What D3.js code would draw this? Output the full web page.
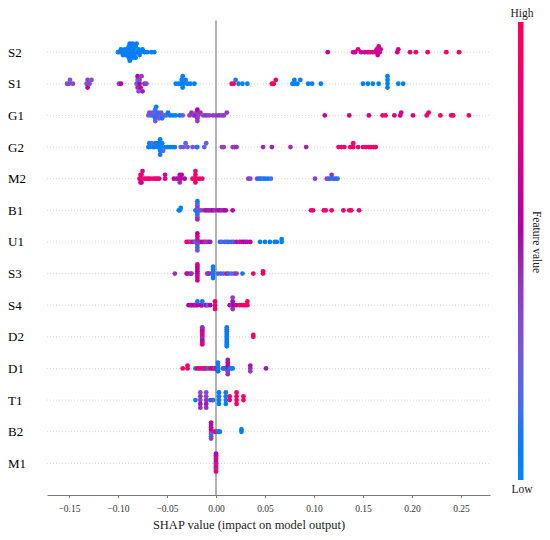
<!DOCTYPE html>
<html>
<head>
<meta charset="utf-8">
<script src="https://cdn.jsdelivr.net/npm/d3@7"></script>
<style>
  body { margin: 0; background: #fff; }
  svg { display: block; font-family: "Liberation Serif", "Times New Roman", serif; }
</style>
</head>
<body>
<div id="chart"></div>
<script>
// [shap value, normalised feature value]
const S2 = [
  [-0.100,0.05],[-0.098,0.08],[-0.097,0.05],[-0.095,0.05],[-0.094,0.1],[-0.093,0.05],[-0.092,0.05],[-0.091,0.08],[-0.091,0.05],[-0.090,0.05],[-0.089,0.1],[-0.089,0.05],[-0.088,0.05],[-0.088,0.08],[-0.087,0.05],[-0.087,0.05],[-0.086,0.1],[-0.086,0.05],[-0.085,0.05],[-0.085,0.08],[-0.084,0.05],[-0.084,0.05],[-0.083,0.1],[-0.082,0.05],[-0.082,0.05],[-0.081,0.08],[-0.080,0.05],[-0.079,0.05],[-0.078,0.1],[-0.077,0.05],[-0.075,0.05],[-0.073,0.08],[-0.070,0.05],[-0.066,0.05],[-0.063,0.05],
  [0.114,0.68],[0.140,0.68],[0.142,0.7],[0.145,0.72],[0.148,0.68],[0.152,0.7],[0.155,0.68],[0.157,0.75],[0.160,0.7],[0.163,0.68],[0.164,0.7],[0.165,0.68],[0.166,0.72],[0.167,0.7],[0.168,0.68],[0.185,0.72],[0.186,0.7],[0.198,0.85],[0.204,0.9],[0.216,0.92],[0.235,0.95],[0.248,0.97]
];
const S1 = [
  [-0.152,0.32],[-0.150,0.38],[-0.149,0.3],[-0.146,0.35],
  [-0.132,0.32],[-0.131,0.38],[-0.131,0.55],[-0.129,0.35],[-0.127,0.32],
  [-0.099,0.32],[-0.097,0.6],
  [-0.081,0.3],[-0.080,0.2],[-0.080,0.45],[-0.080,0.6],[-0.079,0.3],[-0.078,0.55],[-0.078,0.35],[-0.077,0.65],[-0.076,0.4],[-0.075,0.5],[-0.073,0.45],[-0.071,0.35],
  [-0.041,0.05],[-0.038,0.05],[-0.036,0.08],[-0.035,0.05],[-0.034,0.05],[-0.034,0.05],[-0.033,0.08],[-0.031,0.05],[-0.029,0.05],[-0.026,0.05],[-0.022,0.05],
  [0.016,0.95],[0.018,0.92],[0.020,0.1],[0.023,0.05],[0.027,0.05],[0.032,0.05],
  [0.057,0.95],[0.059,0.92],[0.061,0.95],
  [0.078,0.05],[0.080,0.05],[0.080,0.05],[0.083,0.05],[0.086,0.05],[0.094,0.05],[0.098,0.05],[0.107,0.05],
  [0.150,0.05],[0.155,0.05],[0.160,0.05],[0.166,0.05],[0.175,0.05],[0.175,0.05],[0.175,0.05],[0.175,0.05],[0.186,0.05],[0.191,0.05]
];
const G1 = [
  [-0.069,0.3],[-0.068,0.35],[-0.066,0.2],[-0.065,0.3],[-0.064,0.1],[-0.063,0.28],[-0.062,0.08],[-0.062,0.15],[-0.062,0.3],[-0.061,0.05],[-0.060,0.35],[-0.059,0.1],[-0.058,0.3],[-0.057,0.15],[-0.056,0.32],[-0.055,0.1],[-0.053,0.3],[-0.051,0.15],[-0.049,0.08],[-0.047,0.05],[-0.044,0.1],[-0.041,0.05],[-0.037,0.08],[-0.034,0.3],
  [-0.027,0.4],[-0.025,0.45],[-0.023,0.38],[-0.021,0.5],[-0.020,0.42],[-0.019,0.45],[-0.019,0.55],[-0.019,0.4],[-0.018,0.38],[-0.016,0.45],[-0.013,0.4],[-0.010,0.45],[-0.007,0.4],[-0.003,0.42],[0.000,0.4],[0.003,0.45],[0.006,0.38],[0.008,0.4],[0.011,0.42],
  [0.111,0.65],[0.136,0.68],[0.156,0.7],[0.170,0.9],[0.173,0.92],[0.182,0.7],[0.188,0.68],[0.189,0.72],[0.201,0.75],[0.215,0.9],[0.217,0.92],[0.229,0.95],[0.240,0.95],[0.242,0.92],[0.258,0.97]
];
const G2 = [
  [-0.069,0.05],[-0.068,0.08],[-0.067,0.05],[-0.066,0.2],[-0.064,0.05],[-0.063,0.05],[-0.062,0.1],[-0.060,0.05],[-0.059,0.05],[-0.058,0.05],[-0.058,0.08],[-0.057,0.05],[-0.057,0.05],[-0.057,0.1],[-0.056,0.05],[-0.055,0.05],[-0.054,0.2],[-0.052,0.05],[-0.050,0.05],[-0.048,0.05],[-0.046,0.08],[-0.044,0.05],[-0.042,0.05],
  [-0.036,0.25],[-0.033,0.3],[-0.031,0.2],[-0.029,0.28],[-0.024,0.32],[-0.020,0.3],[-0.019,0.1],[-0.012,0.2],[-0.010,0.25],
  [0.006,0.38],[0.008,0.4],[0.017,0.42],[0.019,0.4],[0.021,0.45],[0.048,0.45],[0.057,0.48],[0.076,0.45],[0.092,0.48],
  [0.125,0.9],[0.128,0.92],[0.131,0.88],[0.137,0.9],[0.140,0.85],[0.140,0.92],[0.145,0.88],[0.150,0.9],[0.153,0.85],[0.156,0.92],[0.158,0.88],[0.161,0.9],[0.163,0.92]
];
const M2 = [
  [-0.078,0.75],[-0.077,0.85],[-0.077,0.7],[-0.076,0.9],[-0.076,0.8],[-0.076,0.65],[-0.075,0.7],[-0.073,0.88],[-0.071,0.8],[-0.069,0.9],[-0.067,0.85],[-0.064,0.8],[-0.062,0.9],[-0.060,0.85],[-0.058,0.8],
  [-0.052,0.8],[-0.052,0.75],
  [-0.043,0.55],[-0.040,0.5],[-0.038,0.65],[-0.037,0.55],[-0.037,0.45],[-0.036,0.6],[-0.035,0.6],[-0.032,0.55],
  [-0.024,0.9],[-0.022,0.95],[-0.021,0.9],[-0.021,0.85],[-0.021,0.95],[-0.020,0.95],[-0.017,0.9],[-0.014,0.92],
  [0.033,0.4],[0.035,0.35],[0.042,0.4],[0.044,0.1],[0.046,0.05],[0.048,0.2],[0.050,0.1],[0.053,0.05],[0.056,0.15],
  [0.101,0.4],[0.113,0.4],[0.115,0.35],[0.117,0.1],[0.118,0.45],[0.120,0.05],[0.122,0.4],[0.124,0.1]
];
const B1 = [
  [-0.038,0.05],[-0.037,0.05],[-0.036,0.05],
  [-0.021,0.1],[-0.020,0.05],[-0.019,0.3],[-0.019,0.1],[-0.019,0.4],[-0.019,0.05],[-0.019,0.2],[-0.019,0.35],[-0.019,0.1],[-0.019,0.45],[-0.017,0.3],[-0.015,0.35],
  [-0.012,0.45],[-0.010,0.5],[-0.008,0.55],[-0.007,0.45],[-0.005,0.5],[-0.003,0.55],[-0.001,0.45],[0.002,0.5],[0.004,0.55],[0.006,0.45],[0.008,0.5],[0.010,0.55],
  [0.017,0.65],
  [0.097,0.92],[0.099,0.9],[0.110,0.92],[0.112,0.88],[0.118,0.92],[0.130,0.9],[0.136,0.88],[0.138,0.92],[0.146,0.9]
];
const U1 = [
  [-0.030,0.9],[-0.028,0.95],[-0.026,0.4],[-0.024,0.85],[-0.022,0.45],[-0.021,0.3],[-0.019,0.1],[-0.019,0.5],[-0.019,0.4],[-0.019,0.9],[-0.019,0.05],[-0.019,0.55],[-0.019,0.35],[-0.016,0.45],[-0.014,0.55],[-0.012,0.9],[-0.010,0.4],[-0.008,0.45],[-0.006,0.5],
  [0.004,0.1],[0.006,0.3],[0.009,0.05],[0.011,0.35],[0.013,0.1],[0.016,0.4],[0.018,0.1],
  [0.021,0.65],[0.024,0.45],[0.026,0.7],[0.028,0.55],[0.030,0.65],[0.032,0.5],[0.035,0.65],
  [0.045,0.05],[0.050,0.05],[0.055,0.05],[0.060,0.05],[0.062,0.1],[0.067,0.05],[0.067,0.05]
];
const S3 = [
  [-0.042,0.45],
  [-0.030,0.65],[-0.029,0.5],[-0.026,0.65],[-0.025,0.45],
  [-0.019,0.65],[-0.019,0.55],[-0.019,0.7],[-0.019,0.6],[-0.019,0.65],[-0.019,0.55],[-0.019,0.7],[-0.019,0.75],
  [-0.009,0.4],[-0.008,0.35],[-0.007,0.45],
  [-0.003,0.05],[-0.003,0.1],[-0.003,0.05],[-0.003,0.1],[-0.003,0.05],[-0.003,0.1],
  [0.002,0.35],[0.005,0.1],[0.008,0.3],[0.011,0.9],[0.013,0.1],[0.016,0.2],[0.019,0.35],
  [0.021,0.4],[0.027,0.1],[0.038,0.95],[0.048,0.95],[0.048,0.92]
];
const S4 = [
  [-0.028,0.55],[-0.026,0.6],[-0.025,0.5],[-0.023,0.65],[-0.022,0.55],[-0.020,0.45],[-0.019,0.6],[-0.019,0.1],[-0.016,0.5],[-0.015,0.65],[-0.014,0.55],[-0.014,0.1],[-0.011,0.2],[-0.010,0.55],[-0.009,0.5],[-0.008,0.15],[-0.006,0.55],
  [-0.001,0.9],[-0.001,0.95],[-0.001,0.9],
  [0.014,0.55],[0.016,0.45],[0.017,0.5],[0.017,0.55],[0.017,0.45],[0.017,0.4],[0.019,0.55],[0.021,0.65],[0.024,0.9],[0.026,0.95],[0.028,0.9],[0.030,0.92],[0.032,0.9],[0.032,0.95]
];
const D2 = [
  [-0.014,0.6],[-0.014,0.9],[-0.014,0.45],[-0.014,0.7],[-0.014,0.55],[-0.014,0.85],[-0.014,0.5],[-0.014,0.65],[-0.014,0.9],[-0.014,0.45],
  [0.011,0.05],[0.011,0.1],[0.011,0.05],[0.011,0.08],[0.011,0.05],[0.011,0.1],[0.011,0.05],[0.011,0.08],[0.011,0.05],[0.011,0.1],[0.011,0.05],
  [0.038,0.95],[0.038,0.92]
];
const D1 = [
  [-0.034,0.95],[-0.029,0.9],[-0.029,0.95],
  [-0.021,0.1],[-0.019,0.5],[-0.017,0.9],[-0.015,0.95],[-0.013,0.9],[-0.012,0.45],[-0.010,0.85],[-0.008,0.1],[-0.006,0.9],[-0.004,0.6],[-0.002,0.85],[-0.001,0.1],[0.000,0.5],[0.001,0.9],
  [0.002,0.05],[0.002,0.05],[0.002,0.08],[0.002,0.1],
  [0.007,0.1],[0.009,0.45],[0.010,0.05],[0.012,0.5],[0.012,0.55],[0.012,0.4],[0.012,0.6],[0.012,0.45],[0.012,0.5],[0.014,0.1],[0.016,0.05],[0.017,0.1],
  [0.035,0.45],[0.035,0.5],[0.035,0.4],[0.051,0.5]
];
const T1 = [
  [-0.021,0.05],
  [-0.016,0.4],[-0.016,0.45],[-0.016,0.5],[-0.016,0.35],[-0.016,0.45],
  [-0.010,0.45],[-0.010,0.4],[-0.010,0.5],[-0.010,0.35],[-0.010,0.45],
  [-0.006,0.1],[-0.004,0.9],[-0.003,0.1],
  [0.003,0.05],[0.003,0.1],[0.003,0.05],[0.003,0.08],
  [0.010,0.05],[0.010,0.1],[0.010,0.05],[0.010,0.08],
  [0.014,0.9],[0.014,0.95],
  [0.021,0.9],[0.021,0.95],[0.021,0.9],[0.021,0.92],
  [0.028,0.95],[0.028,0.9]
];
const B2 = [
  [-0.005,0.45],[-0.005,0.6],[-0.005,0.35],[-0.005,0.7],[-0.005,0.1],[-0.005,0.5],[-0.005,0.4],[-0.005,0.65],
  [-0.001,0.9],[0.000,0.95],[0.002,0.1],[0.003,0.05],[0.004,0.1],
  [0.026,0.05],[0.026,0.08]
];
const M1 = [
  [0,0.6],[0,0.9],[0,0.45],[0,0.7],[0,0.95],[0,0.5],[0,0.65],[0,0.85],[0,0.4],[0,0.75],[0,0.9],[0,0.55]
];

const features = ['S2','S1','G1','G2','M2','B1','U1','S3','S4','D2','D1','T1','B2','M1'];
const series = [S2, S1, G1, G2, M2, B1, U1, S3, S4, D2, D1, T1, B2, M1];
const xTicks = [-0.15, -0.10, -0.05, 0.00, 0.05, 0.10, 0.15, 0.20, 0.25];

const width = 550, height = 540;
const n = features.length;

const x = d3.scaleLinear().domain([-0.17245, 0.27959]).range([47, 490]);
// row positions like shap: top feature at n-1, limits -1..n
const y = d3.scaleLinear().domain([-1, n]).range([495, 20.5]);

// shap red_blue: lch path blue -> red, lightness dips in the middle
const redBlue = t => {
  const h = 266.93 + t * (380.32 - 266.93);
  const c = 70 + 20 * t;
  const l = t < 0.5 ? 54 - 28 * t : 40 + 28 * (t - 0.5);
  return d3.hcl(h, c, l).formatHex();
};
const color = d3.scaleSequential(redBlue).domain([0, 1]);

// beeswarm offsets, same as shap summary_plot
const swarm = vals => {
  const lo = d3.min(vals), hi = d3.max(vals);
  const quant = vals.map(v => Math.round(100 * (v - lo) / (hi - lo + 1e-8)));
  const inds = d3.range(vals.length).sort((a, b) => quant[a] - quant[b] || a - b);
  const ys = new Array(vals.length).fill(0);
  let layer = 0, last = -1;
  inds.forEach(i => {
    if (quant[i] !== last) layer = 0;
    ys[i] = Math.ceil(layer / 2) * ((layer % 2) * 2 - 1);
    layer++;
    last = quant[i];
  });
  const m = d3.max(ys, v => v + 1);
  return ys.map(v => v * 0.9 * 0.4 / m);
};

const svg = d3.select('#chart')
  .append('svg')
  .attr('width', width)
  .attr('height', height);

// dotted row guides
svg.append('g')
  .selectAll('line')
  .data(features)
  .enter()
  .append('line')
  .attr('x1', x.range()[0])
  .attr('x2', x.range()[1])
  .attr('y1', (d, i) => y(n - 1 - i))
  .attr('y2', (d, i) => y(n - 1 - i))
  .attr('stroke', '#cccccc')
  .attr('stroke-width', 0.8)
  .attr('stroke-dasharray', '1,2');

// zero line
svg.append('line')
  .attr('x1', x(0)).attr('x2', x(0))
  .attr('y1', y(n)).attr('y2', y(-1))
  .attr('stroke', '#999999')
  .attr('stroke-width', 1.5);

// points
series.forEach((pts, i) => {
  const pos = n - 1 - i;
  const offs = swarm(pts.map(d => d[0]));
  svg.append('g')
    .selectAll('circle')
    .data(pts)
    .enter()
    .append('circle')
    .attr('cx', d => x(d[0]))
    .attr('cy', (d, j) => y(pos + offs[j]))
    .attr('r', 2.4)
    .attr('fill', d => color(d[1]));
});

// feature names
svg.append('g')
  .selectAll('text')
  .data(features)
  .enter()
  .append('text')
  .attr('x', 8)
  .attr('y', (d, i) => y(n - 1 - i))
  .attr('dy', '0.35em')
  .attr('font-size', '13px')
  .attr('fill', '#000')
  .text(d => d);

// x axis
const xAxis = svg.append('g')
  .attr('transform', 'translate(0,495)')
  .call(d3.axisBottom(x)
    .tickValues(xTicks)
    .tickFormat(d3.format('.2f'))
    .tickSize(3)
    .tickSizeOuter(0)
    .tickPadding(7));

xAxis.attr('font-family', '"Liberation Serif", serif');
xAxis.select('.domain').attr('stroke', '#777').attr('stroke-width', 1.2);
xAxis.selectAll('.tick line').attr('stroke', '#777');
xAxis.selectAll('.tick text')
  .attr('font-size', '9.5px')
  .attr('fill', '#333');

svg.append('text')
  .attr('x', 249)
  .attr('y', 529)
  .attr('text-anchor', 'middle')
  .attr('font-size', '12.5px')
  .attr('fill', '#222')
  .text('SHAP value (impact on model output)');

// colour bar
const cb = d3.scaleLinear().domain([0, 1]).range([480, 22]);

const grad = svg.append('defs')
  .append('linearGradient')
  .attr('id', 'cbar')
  .attr('x1', 0).attr('y1', 1)
  .attr('x2', 0).attr('y2', 0);

grad.selectAll('stop')
  .data(d3.range(0, 1.0001, 0.05))
  .enter()
  .append('stop')
  .attr('offset', d => d)
  .attr('stop-color', d => color(d));

svg.append('rect')
  .attr('x', 518)
  .attr('y', cb(1))
  .attr('width', 5.5)
  .attr('height', cb(0) - cb(1))
  .attr('fill', 'url(#cbar)');

svg.append('text')
  .attr('x', 522)
  .attr('y', 17)
  .attr('text-anchor', 'middle')
  .attr('font-size', '11.5px')
  .attr('fill', '#222')
  .text('High');

svg.append('text')
  .attr('x', 522)
  .attr('y', 493)
  .attr('text-anchor', 'middle')
  .attr('font-size', '11.5px')
  .attr('fill', '#222')
  .text('Low');

svg.append('text')
  .attr('transform', 'translate(533,242) rotate(90)')
  .attr('text-anchor', 'middle')
  .attr('font-size', '11.5px')
  .attr('fill', '#222')
  .text('Feature value');
</script>
</body>
</html>
